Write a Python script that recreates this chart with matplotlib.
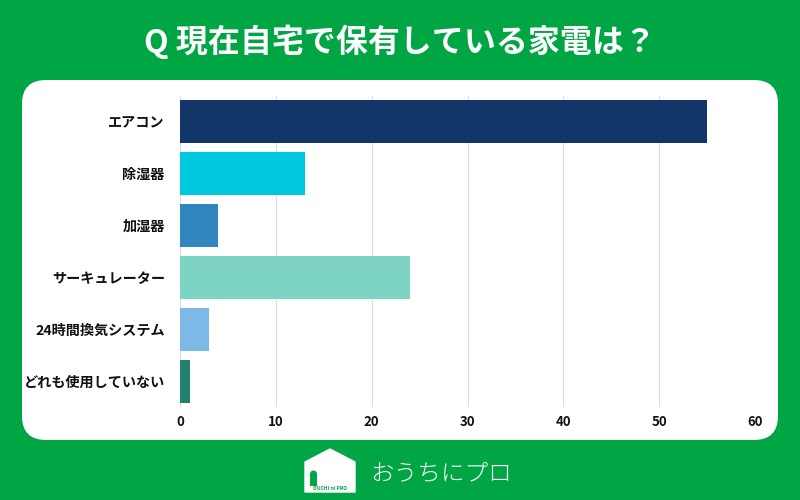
import matplotlib
matplotlib.use("Agg")
import matplotlib.pyplot as plt
from matplotlib.patches import FancyBboxPatch, Polygon, Rectangle, Ellipse

plt.rcParams['font.family'] = ['Noto Sans CJK JP', 'DejaVu Sans']

categories = ["エアコン", "除湿器", "加湿器", "サーキュレーター", "24時間換気システム", "どれも使用していない"]
values = [55, 13, 4, 24, 3, 1]
colors = ["#12356A", "#00C8E0", "#3186BE", "#7DD3C4", "#7CB9E6", "#22826E"]
xticks = [0, 10, 20, 30, 40, 50, 60]
title = "Q 現在自宅で保有している家電は？"
brand = "おうちにプロ"

GREEN = "#00A544"
W, H = 800, 500
fig = plt.figure(figsize=(8, 5), dpi=100)
fig.patch.set_facecolor(GREEN)

def fx(px):
    return px / W

def fy(py):
    return 1 - py / H

# white panel
panel = FancyBboxPatch((fx(22), fy(440)), fx(756), 360 / H,
                       boxstyle="round,pad=0,rounding_size=0.03",
                       transform=fig.transFigure, facecolor="white",
                       edgecolor="none", mutation_aspect=W / H, zorder=-1)
fig.patches.append(panel)

fig.text(0.5, fy(42), title, ha="center", va="center", color="white",
         fontsize=23, fontweight="bold")

# axes: x 180..755, y 96..407
ax = fig.add_axes([fx(180), fy(407), fx(755 - 180), (407 - 96) / H])
ax.set_facecolor("none")
y = list(range(len(categories)))
ax.barh(y, values, color=colors, height=0.83, zorder=3)
ax.set_ylim(len(categories) - 0.5, -0.5)
ax.set_xlim(0, 60)
ax.set_xticks(xticks)
ax.set_xticklabels([str(t) for t in xticks])
ax.set_yticks(y)
ax.set_yticklabels(categories)
ax.grid(axis="x", color="#DDDDDD", linewidth=0.8, zorder=0)
for s in ax.spines.values():
    s.set_visible(False)
ax.tick_params(axis="both", length=0, labelsize=9.5, colors="#111111")
ax.tick_params(axis="y", pad=11, labelsize=10.2)
ax.tick_params(axis="x", pad=6)
for lbl in ax.get_yticklabels() + ax.get_xticklabels():
    lbl.set_fontweight("bold")

# footer logo (house)
house = Polygon([[fx(305), fy(492)], [fx(305), fy(462)], [fx(330), fy(449)],
                 [fx(355), fy(462)], [fx(355), fy(492)]],
                closed=True, transform=fig.transFigure, facecolor="white",
                edgecolor="white", linewidth=1, joinstyle="round")
fig.patches.append(house)
door = Rectangle((fx(310), fy(486)), fx(7), 12 / H, transform=fig.transFigure,
                 facecolor=GREEN, edgecolor="none", zorder=2)
fig.patches.append(door)
door_top = Ellipse((fx(313.5), fy(474)), fx(7), 7 / H, transform=fig.transFigure,
                   facecolor=GREEN, edgecolor="none", zorder=2)
fig.patches.append(door_top)
fig.text(fx(330), fy(489), "OUCHI ni PRO", ha="center", va="center",
         color=GREEN, fontsize=3.6, fontweight="bold")
fig.text(fx(370), fy(474), brand, ha="left", va="center", color="white",
         fontsize=17, fontweight="light")

fig.savefig("out.png", dpi=100, facecolor=GREEN)
